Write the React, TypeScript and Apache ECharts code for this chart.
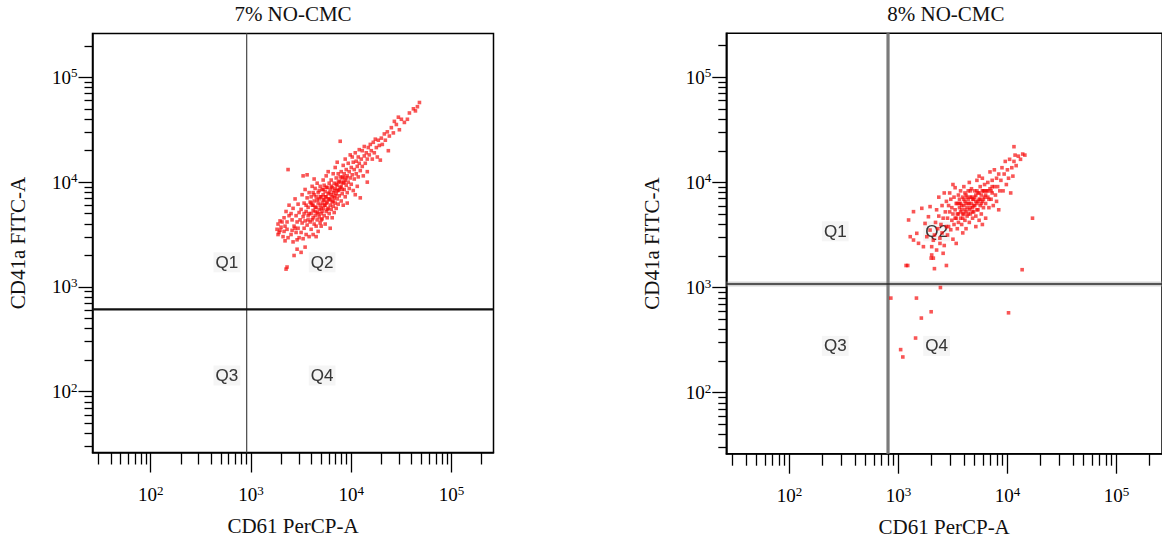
import React, { useEffect, useRef } from "react";
import * as echarts from "echarts";

// ---------- data (all positions are log10 of fluorescence intensity) ----------
const panelTitles = ["7% NO-CMC", "8% NO-CMC"];
const xAxisTitle = "CD61 PerCP-A";
const yAxisTitle = "CD41a FITC-A";
const axisMinDecade = 1.42; // ~26
const axisMaxDecade = 5.4185; // 262144
const majorExponents = [2, 3, 4, 5];
const minorTickValues = [
  30, 40, 50, 60, 70, 80, 90, 200, 300, 400, 500, 600, 700, 800, 900, 2000, 3000, 4000, 5000, 6000, 7000,
  8000, 9000, 20000, 30000, 40000, 50000, 60000, 70000, 80000, 90000, 200000,
];
const quadrantNames = ["Q1", "Q2", "Q3", "Q4"];
// gate positions (raw intensity) for panel 7% and 8%
const gateX = [906, 802];
const gateY = [610, 1080];
// quadrant label anchor positions (log10) : [x left, x right, y top, y bottom]
const quadLabelPos7 = [2.76, 3.71, 3.235, 2.155];
const quadLabelPos8 = [2.42, 3.35, 3.535, 2.445];

const points7: number[][] = [
  [3.26,3.55],[3.27,3.60],[3.28,3.52],[3.29,3.63],[3.30,3.57],[3.27,3.50],[3.31,3.62],[3.29,3.54],
  [3.32,3.48],[3.33,3.66],[3.34,3.58],[3.35,3.72],[3.33,3.53],[3.36,3.62],[3.37,3.47],[3.38,3.78],[3.36,3.55],[3.38,3.68],[3.35,3.17],[3.36,3.19],[3.37,4.12],[3.34,3.44],
  [3.40,3.50],[3.41,3.64],[3.42,3.43],[3.42,3.75],[3.43,3.58],[3.44,3.84],[3.45,3.52],[3.45,3.68],[3.46,3.36],[3.46,3.62],[3.47,3.79],[3.48,3.47],[3.48,3.71],[3.40,3.70],[3.43,3.30],[3.44,3.56],[3.47,3.56],[3.41,3.54],[3.49,3.64],[3.46,3.45],
  [3.50,3.52],[3.50,3.74],[3.51,3.61],[3.51,3.88],[3.52,3.46],[3.52,3.67],[3.53,3.80],[3.53,3.56],[3.54,3.93],[3.54,3.63],[3.55,3.50],[3.55,3.72],[3.56,3.85],[3.56,3.59],[3.57,3.68],[3.57,3.76],[3.58,3.48],[3.58,3.90],[3.59,3.62],[3.59,3.81],[3.52,4.06],[3.56,4.07],[3.54,3.38],[3.50,3.33],
  [3.60,3.55],[3.60,3.70],[3.60,3.86],[3.61,3.64],[3.61,3.78],[3.61,3.96],[3.62,3.50],[3.62,3.73],[3.62,3.90],[3.63,3.60],[3.63,3.82],[3.64,3.68],[3.64,3.94],[3.64,3.76],[3.65,3.58],[3.65,3.86],[3.66,3.71],[3.66,3.99],[3.66,3.64],[3.67,3.80],[3.67,3.90],[3.67,3.53],[3.68,3.74],[3.68,3.84],[3.68,3.67],[3.69,3.96],[3.69,3.78],[3.63,4.03],[3.65,3.48],[3.69,3.61],
  [3.70,3.70],[3.70,3.86],[3.70,3.58],[3.71,3.80],[3.71,3.93],[3.71,3.65],[3.72,3.75],[3.72,4.02],[3.72,3.88],[3.73,3.68],[3.73,3.83],[3.73,3.97],[3.74,3.60],[3.74,3.78],[3.74,3.91],[3.75,3.72],[3.75,3.86],[3.75,4.06],[3.76,3.66],[3.76,3.81],[3.76,3.95],[3.77,3.75],[3.77,3.89],[3.77,4.10],[3.78,3.70],[3.78,3.84],[3.78,3.99],[3.79,3.78],[3.79,3.93],[3.79,3.56],
  [3.80,3.74],[3.80,3.88],[3.80,4.02],[3.81,3.66],[3.81,3.81],[3.81,3.95],[3.82,3.77],[3.82,3.90],[3.82,4.08],[3.83,3.71],[3.83,3.85],[3.83,3.99],[3.84,3.80],[3.84,3.94],[3.84,4.14],[3.85,3.75],[3.85,3.89],[3.85,4.04],[3.86,3.84],[3.86,3.97],[3.86,4.19],[3.87,3.79],[3.87,3.92],[3.87,4.08],[3.88,3.87],[3.88,4.01],[3.89,3.95],[3.89,4.39],
  [3.90,3.82],[3.90,3.96],[3.90,4.10],[3.91,3.89],[3.91,4.04],[3.92,3.78],[3.92,3.99],[3.92,4.16],[3.93,3.93],[3.93,4.08],[3.94,3.86],[3.94,4.02],[3.94,4.22],[3.95,3.97],[3.95,4.12],[3.96,3.90],[3.96,4.06],[3.97,4.00],[3.97,4.18],[3.98,3.94],[3.98,4.10],[3.99,4.04],[3.99,4.26],[3.96,3.80],
  [4.00,3.98],[4.00,4.14],[4.01,4.07],[4.01,4.24],[4.02,3.92],[4.02,4.19],[4.03,4.03],[4.03,4.12],[4.04,4.28],[4.05,4.08],[4.05,4.20],[4.06,3.96],[4.06,4.15],[4.07,4.24],[4.07,4.05],[4.08,4.18],[4.08,4.31],[4.09,4.11],[4.09,3.85],[4.04,3.88],
  [4.10,4.22],[4.11,4.15],[4.11,4.30],[4.12,4.06],[4.13,4.25],[4.13,4.34],[4.14,4.18],[4.15,4.28],[4.16,4.10],[4.16,4.22],[4.17,4.33],[4.18,4.26],[4.19,4.36],[4.16,4.00],
  [4.20,4.30],[4.21,4.22],[4.22,4.38],[4.23,4.28],[4.24,4.41],[4.25,4.33],[4.26,4.24],[4.27,4.40],[4.28,4.35],[4.29,4.21],
  [4.30,4.42],[4.31,4.36],[4.33,4.46],[4.34,4.40],[4.36,4.48],[4.37,4.30],[4.38,4.44],
  [4.40,4.52],[4.42,4.47],[4.43,4.58],[4.45,4.55],[4.47,4.62],[4.48,4.50],
  [4.50,4.60],[4.53,4.57],[4.56,4.60],[4.58,4.66],
  [4.62,4.70],[4.64,4.68],[4.66,4.72],[4.68,4.76],
  [3.58,3.70],[3.60,3.80],[3.62,3.66],[3.63,3.88],[3.65,3.76],[3.66,3.83],[3.67,3.70],[3.68,3.92],[3.69,3.86],[3.70,3.75],[3.71,3.72],[3.72,3.83],[3.72,3.93],[3.73,3.78],[3.74,3.86],[3.75,3.80],[3.75,3.95],[3.76,3.74],[3.77,3.84],[3.78,3.90],[3.79,3.83],[3.80,3.96],[3.81,3.86],[3.82,3.82],[3.83,3.92],[3.84,3.87],[3.85,3.98],[3.86,3.92],[3.87,4.00],[3.88,3.93],[3.89,4.05],[3.90,4.00],[3.91,3.93],[3.92,4.05],[3.93,4.00],[3.95,4.04],[3.64,3.72],[3.70,3.64],[3.62,3.78],[3.57,3.64],[3.55,3.78],[3.53,3.70],
];

const points8: number[][] = [
  [2.93,2.90],[3.165,2.90],[3.385,3.00],[3.30,2.77],[3.21,2.71],[3.157,2.52],[3.02,2.41],[3.04,2.34],[4.01,2.76],[4.135,3.17],[4.23,3.66],[3.07,3.21],[3.085,3.21],[3.30,3.28],[3.44,3.21],[3.33,3.18],[3.305,3.31],[3.32,3.28],
  [3.093,3.643],[3.138,3.722],[3.108,3.484],[3.138,3.452],[3.184,3.421],[3.229,3.389],[3.26,3.484],[3.29,3.547],[3.244,3.61],[3.275,3.674],[3.214,3.754],[3.32,3.45],[3.305,3.389],[3.168,3.516],[3.35,3.357],[3.381,3.42],[3.41,3.326],[3.29,3.77],
  [3.33,3.50],[3.34,3.62],[3.35,3.74],[3.36,3.56],[3.37,3.68],[3.37,3.86],[3.38,3.47],[3.39,3.60],[3.40,3.78],[3.40,3.52],[3.41,3.66],[3.42,3.90],[3.42,3.40],[3.43,3.72],[3.44,3.58],[3.44,3.82],
  [3.45,3.50],[3.45,3.66],[3.46,3.78],[3.46,3.58],[3.47,3.72],[3.47,3.90],[3.48,3.55],[3.48,3.84],[3.49,3.64],[3.49,3.76],[3.50,3.46],[3.50,3.70],[3.51,3.60],[3.51,3.86],[3.52,3.74],[3.52,3.95],[3.53,3.66],[3.53,3.80],[3.54,3.56],[3.54,3.70],[3.55,3.88],[3.55,3.62],[3.56,3.76],[3.56,3.84],[3.50,3.98],[3.53,3.42],
  [3.57,3.66],[3.57,3.80],[3.57,3.92],[3.58,3.60],[3.58,3.74],[3.59,3.86],[3.59,3.70],[3.60,3.78],[3.60,3.96],[3.61,3.64],[3.61,3.82],[3.62,3.72],[3.62,3.88],[3.63,3.76],[3.63,3.68],[3.64,3.92],[3.64,3.80],[3.65,3.62],[3.65,3.74],[3.66,3.86],[3.66,3.70],[3.67,3.80],[3.67,3.94],[3.68,3.76],[3.68,3.66],[3.59,3.52],[3.62,3.56],[3.65,4.00],[3.60,3.70],[3.64,3.84],
  [3.69,3.84],[3.69,3.72],[3.70,3.92],[3.70,3.78],[3.71,3.68],[3.71,3.88],[3.72,3.80],[3.72,4.02],[3.73,3.74],[3.73,3.90],[3.74,3.84],[3.74,3.64],[3.75,3.96],[3.75,3.78],[3.76,3.88],[3.76,3.70],[3.77,3.82],[3.77,4.04],[3.78,3.92],[3.78,3.76],[3.79,3.86],[3.79,3.98],[3.80,3.80],[3.80,3.66],[3.81,3.92],[3.74,4.06],[3.71,3.58],[3.77,3.60],
  [3.82,3.86],[3.82,4.00],[3.83,3.76],[3.84,3.94],[3.84,4.10],[3.85,3.84],[3.86,4.02],[3.86,3.90],[3.87,3.78],[3.88,3.96],[3.88,4.12],[3.89,3.88],[3.90,4.04],[3.90,3.82],[3.91,3.96],[3.92,4.08],[3.92,3.74],[3.93,3.92],
  [3.94,4.02],[3.95,4.14],[3.96,3.92],[3.97,4.08],[3.98,4.20],[3.99,3.98],[4.00,4.12],[4.01,4.04],[4.02,4.22],[4.03,3.90],[4.04,4.14],[4.05,4.06],
  [4.06,4.20],[4.07,4.26],[4.08,4.16],[4.06,4.34],[4.10,4.25],[4.12,4.22],[4.14,4.27],[4.16,4.26],
  [3.55,3.70],[3.56,3.80],[3.58,3.78],[3.59,3.66],[3.60,3.84],[3.61,3.74],[3.62,3.80],[3.63,3.86],[3.64,3.70],[3.65,3.80],[3.66,3.76],[3.67,3.86],[3.68,3.72],[3.68,3.84],[3.69,3.78],[3.70,3.86],[3.71,3.82],[3.72,3.74],[3.72,3.92],[3.73,3.82],[3.74,3.90],[3.75,3.84],[3.76,3.80],[3.77,3.92],[3.78,3.84],[3.79,3.92],[3.80,3.88],[3.82,3.92],[3.83,3.84],[3.85,3.92],[3.86,3.96],[3.52,3.66],[3.54,3.80],[3.57,3.72],[3.61,3.90],[3.66,3.92],
];

// ---------- presentation ----------
const SERIF = "'Liberation Serif', 'Times New Roman', serif";
const SANS = "'Liberation Sans', Arial, sans-serif";

const grids = [
  { left: 92.5, top: 33.5, width: 401, height: 419 },
  { left: 726.3, top: 33.3, width: 439.2, height: 420.4 },
];

function buildOption() {
  const majorVals = majorExponents;
  const minorVals = minorTickValues.map((v) => Math.log10(v));
  const xAxes: any[] = [];
  const yAxes: any[] = [];
  const series: any[] = [];
  const graphics: any[] = [];
  const rich = {
    b: { fontFamily: SERIF, fontSize: 19, color: "#000", lineHeight: 22 },
    s: { fontFamily: SERIF, fontSize: 13, color: "#000", lineHeight: 13, verticalAlign: "top" },
  };

  grids.forEach((g, gi) => {
    const common = { type: "value", gridIndex: gi, min: axisMinDecade, max: axisMaxDecade, splitLine: { show: false } };
    xAxes.push({
      ...common,
      position: "bottom",
      name: xAxisTitle,
      nameLocation: "middle",
      nameGap: 63,
      nameTextStyle: { fontFamily: SERIF, fontSize: 21, color: "#111" },
      axisLine: { show: true, lineStyle: { color: "#000", width: 1.5 } },
      axisTick: { show: true, customValues: majorVals, length: 20, lineStyle: { color: "#000", width: 1.3 } },
      axisLabel: { customValues: majorVals, margin: 31, formatter: (v: number) => `{b|10}{s|${Math.round(v)}}`, rich },
    });
    xAxes.push({
      ...common,
      position: "bottom",
      axisLine: { show: false },
      axisTick: { show: true, customValues: minorVals, length: 12, lineStyle: { color: "#000", width: 1.3 } },
      axisLabel: { show: false },
    });
    yAxes.push({
      ...common,
      position: "left",
      name: yAxisTitle,
      nameLocation: "middle",
      nameGap: 64,
      nameTextStyle: { fontFamily: SERIF, fontSize: 21, color: "#111" },
      axisLine: { show: true, lineStyle: { color: "#000", width: 1.5 } },
      axisTick: { show: true, customValues: majorVals, length: 14, lineStyle: { color: "#000", width: 1.3 } },
      axisLabel: { customValues: majorVals, margin: 15, formatter: (v: number) => `{b|10}{s|${Math.round(v)}}`, rich },
    });
    yAxes.push({
      ...common,
      position: "left",
      axisLine: { show: false },
      axisTick: { show: true, customValues: minorVals, length: 8, lineStyle: { color: "#000", width: 1.3 } },
      axisLabel: { show: false },
    });

    const xi = gi * 2;
    const yi = gi * 2;
    const gx = Math.log10(gateX[gi]);
    const gy = Math.log10(gateY[gi]);
    const vStyle = gi === 0 ? { color: "#555", width: 1.3 } : { color: "#7a7a7a", width: 3.2 };
    const hStyle = gi === 0 ? { color: "#111", width: 2.2 } : { color: "#2a2a2a", width: 1.6 };
    if (gi === 1) {
      series.push({
        type: "line", xAxisIndex: xi, yAxisIndex: yi, symbol: "none", silent: true, z: 1,
        lineStyle: { color: "rgba(160,160,160,0.45)", width: 5 },
        data: [[axisMinDecade, gy], [axisMaxDecade, gy]],
      });
    }
    series.push({
      type: "line", xAxisIndex: xi, yAxisIndex: yi, symbol: "none", silent: true, z: 2,
      lineStyle: vStyle, data: [[gx, axisMinDecade], [gx, axisMaxDecade]],
    });
    series.push({
      type: "line", xAxisIndex: xi, yAxisIndex: yi, symbol: "none", silent: true, z: 2,
      lineStyle: hStyle, data: [[axisMinDecade, gy], [axisMaxDecade, gy]],
    });
    const qp = gi === 0 ? quadLabelPos7 : quadLabelPos8;
    const qData = [
      { name: quadrantNames[0], value: [qp[0], qp[2]] },
      { name: quadrantNames[1], value: [qp[1], qp[2]] },
      { name: quadrantNames[2], value: [qp[0], qp[3]] },
      { name: quadrantNames[3], value: [qp[1], qp[3]] },
    ];
    series.push({
      type: "scatter", xAxisIndex: xi, yAxisIndex: yi, symbolSize: 1, silent: true, z: 3,
      itemStyle: { color: "rgba(0,0,0,0)" },
      label: {
        show: true, position: "inside", formatter: "{b}", fontFamily: SANS, fontSize: 17, color: "#1c1c1c",
        backgroundColor: "rgba(200,200,200,0.22)", padding: [2, 2, 1, 2],
        textShadowColor: "rgba(0,0,0,0.4)", textShadowBlur: 1.5,
      },
      data: qData,
    });
    series.push({
      type: "scatter", xAxisIndex: xi, yAxisIndex: yi, symbol: "rect", symbolSize: 3.6, z: 4, silent: true,
      itemStyle: { color: "rgba(246,6,6,0.85)" },
      data: gi === 0 ? points7 : points8,
    });

    graphics.push({
      type: "text",
      x: g.left + g.width / 2,
      y: 14,
      style: { text: panelTitles[gi], fontFamily: SERIF, fontSize: 21, fill: "#111", align: "center", verticalAlign: "middle" },
    });
  });

  return {
    animation: false,
    backgroundColor: "#fff",
    grid: grids.map((g) => ({ ...g, show: true, borderColor: "#000", borderWidth: 1.5, backgroundColor: "transparent", containLabel: false })),
    xAxis: xAxes,
    yAxis: yAxes,
    series,
    graphic: graphics,
  };
}

export default function App() {
  const ref = useRef<HTMLDivElement>(null);
  useEffect(() => {
    if (!ref.current) return;
    const chart = echarts.init(ref.current, undefined, { renderer: "svg" });
    chart.setOption(buildOption() as any);
    return () => chart.dispose();
  }, []);
  return <div ref={ref} style={{ position: "fixed", left: 0, top: 0, width: 1162, height: 543, background: "#fff" }} />;
}
